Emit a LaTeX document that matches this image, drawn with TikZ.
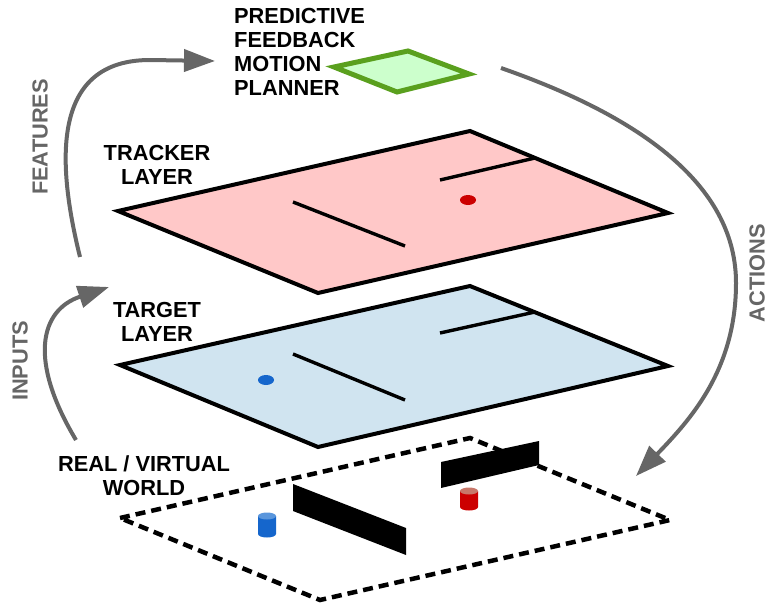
\documentclass[tikz,border=0pt]{standalone}
\usepackage{fontspec}
\setmainfont{Liberation Sans}
\usetikzlibrary{arrows.meta}
\definecolor{flowgrey}{HTML}{666666}
\definecolor{trackfill}{HTML}{FFC8C8}
\definecolor{targfill}{HTML}{D0E4F0}
\definecolor{plangreen}{HTML}{5AA01E}
\definecolor{planfill}{HTML}{CCFFCC}
\definecolor{dotred}{HTML}{CC0000}
\definecolor{dotblue}{HTML}{1566CC}
\definecolor{cylbluetop}{HTML}{5A96DC}
\definecolor{cylredtop}{HTML}{C8786A}
\begin{document}
\begin{tikzpicture}[x=1pt,y=-1pt,
  lbl/.style={font=\fontsize{21.8}{24}\selectfont\bfseries, align=center, inner sep=0pt},
  flowlbl/.style={lbl, text=flowgrey, rotate=90},
  flow/.style={draw=flowgrey, line width=4pt, -{Triangle[length=31pt,width=22pt]}},
  layer/.style={draw=black, line width=4pt},
  wall/.style={draw=black, line width=3.4pt},
]
\useasboundingbox (0,0) rectangle (768,608);

% ---------- world plane (dashed) ----------
\coordinate (wl) at (120,518);
\coordinate (wt) at (470,438);
\coordinate (wr) at (670,520);
\coordinate (wb) at (320,600);
\draw[black, line width=4.5pt, dash pattern=on 10pt off 6pt] (wl) -- (wt) -- (wr) -- (wb) -- cycle;
\fill[black] (293,484) -- (293,511) -- (406,555) -- (406,528) -- cycle;
\fill[black] (441,462) -- (441,488) -- (539,465) -- (539,441) -- cycle;

% cylinders standing in the world
\fill[dotblue] (258,516) -- (258,534) arc[start angle=180,end angle=0,x radius=9,y radius=3.5] -- (276,516) -- cycle;
\fill[cylbluetop] (267,516) ellipse[x radius=9,y radius=3.5];
\fill[dotred] (460,491) -- (460,507) arc[start angle=180,end angle=0,x radius=9,y radius=3.5] -- (478,491) -- cycle;
\fill[cylredtop] (469,491) ellipse[x radius=9,y radius=3.5];

% ---------- target layer ----------
\draw[layer, fill=targfill] (120,365) -- (470,286) -- (668,366) -- (318,447) -- cycle;
\draw[wall] (293,354) -- (405,400);
\draw[wall] (440,333) -- (535,312);
\fill[dotblue] (266,380) ellipse[x radius=8,y radius=5];

% ---------- tracker layer ----------
\draw[layer, fill=trackfill] (118,211) -- (470,131) -- (668,213) -- (318,293) -- cycle;
\draw[wall] (293,202) -- (405,246);
\draw[wall] (440,180) -- (535,158);
\fill[dotred] (468,200) ellipse[x radius=8,y radius=5];

% ---------- planner ----------
\draw[draw=plangreen, fill=planfill, line width=5pt] (334,67) -- (408,51) -- (469,74) -- (397,92) -- cycle;

% ---------- labels ----------
\node[lbl, align=left, anchor=west] (planner) at (234,52) {PREDICTIVE\\FEEDBACK\\MOTION\\PLANNER};
\node[lbl] (tracker) at (157,165) {TRACKER\\LAYER};
\node[lbl] (target) at (157,322) {TARGET\\LAYER};
\node[lbl] (world) at (144,476) {REAL / VIRTUAL\\WORLD};
\node[flowlbl] (features) at (40,137) {FEATURES};
\node[flowlbl] (inputs) at (20,361) {INPUTS};
\node[flowlbl] (actions) at (757,273) {ACTIONS};

% ---------- flow arrows ----------
\coordinate (featS) at (80,257);
\coordinate (featE) at (215,61);
\coordinate (inS) at (76,440);
\coordinate (inE) at (109,287);
\coordinate (actS) at (501,68);
\coordinate (actM) at (736,283);
\coordinate (actE) at (636,476);
\draw[flow] (featS) .. controls (56,160) and (52,60) .. (150,60) -- (featE);
\draw[flow] (inS) .. controls (28,360) and (40,310) .. (inE);
\draw[flow] (actS) .. controls (650,120) and (736,190) .. (actM) .. controls (736,370) and (690,420) .. (actE);
\end{tikzpicture}
\end{document}
